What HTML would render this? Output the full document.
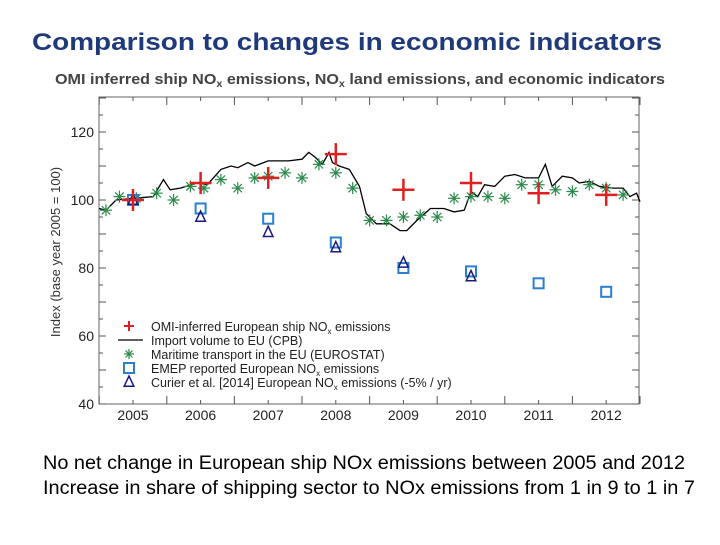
<!DOCTYPE html>
<html><head><meta charset="utf-8"><style>
body{margin:0;background:#fff;width:720px;height:540px;overflow:hidden;font-family:"Liberation Sans",sans-serif}
</style></head><body>
<svg width="720" height="540" xmlns="http://www.w3.org/2000/svg" font-family="Liberation Sans, sans-serif">
<text x="32" y="50" font-size="24" font-weight="bold" fill="#1f3a7a" textLength="630" lengthAdjust="spacingAndGlyphs">Comparison to changes in economic indicators</text>
<text x="55" y="84" font-size="15" font-weight="bold" fill="#444" textLength="610" lengthAdjust="spacingAndGlyphs">OMI inferred ship NO<tspan font-size="10" dy="3">x</tspan><tspan dy="-3"> emissions, NO</tspan><tspan font-size="10" dy="3">x</tspan><tspan dy="-3"> land emissions, and economic indicators</tspan></text>
<g id="plot"></g>
<text transform="translate(60,252) rotate(-90)" text-anchor="middle" font-size="13" fill="#333">Index (base year 2005 = 100)</text>
<text x="43" y="469" font-size="19" fill="#000" textLength="642" lengthAdjust="spacingAndGlyphs">No net change in European ship NOx emissions between 2005 and 2012</text>
<text x="43" y="494" font-size="19" fill="#000" textLength="652" lengthAdjust="spacingAndGlyphs">Increase in share of shipping sector to NOx emissions from 1 in 9 to 1 in 7</text>
</svg>
<script>
const yTicks=[40,60,80,100,120];
const yearLabels=[2005,2006,2007,2008,2009,2010,2011,2012];
const lineYears=[2004.5,2004.6,2004.75,2005,2005.3,2005.45,2005.55,2005.7,2005.95,2006.1,2006.3,2006.45,2006.55,2006.7,2006.8,2007.0,2007.3,2007.5,2007.6,2007.7,2007.8,2007.9,2007.95,2008.05,2008.2,2008.35,2008.45,2008.6,2008.8,2008.95,2009.05,2009.2,2009.4,2009.6,2009.75,2009.9,2010.0,2010.1,2010.2,2010.35,2010.5,2010.65,2010.8,2011.0,2011.1,2011.2,2011.35,2011.5,2011.6,2011.75,2011.9,2012.1,2012.25,2012.35,2012.45,2012.5];
const lineVals=[97.5,97,100,100.5,101,106,103,103.5,105,104.5,109,110,109.5,111,110,111.5,111.5,112,114,112.5,110.5,114,111,110,109,104,96,93,93,91,91,94,97.5,97.5,96.5,97,102.5,101,104.5,104,107,107.5,106.5,106.5,110.5,104,107,106.5,105,105.5,104,103.5,103.5,101,102,99.5];
const omiYears=[2005,2006,2007,2008,2009,2010,2011,2012];
const omiVals=[100,105,106.5,113.5,103,105,102,101.5];
const starYears=[2004.6,2004.8,2005.05,2005.35,2005.6,2005.85,2006.05,2006.3,2006.55,2006.8,2007.0,2007.25,2007.5,2007.75,2008.0,2008.25,2008.5,2008.75,2009.0,2009.25,2009.5,2009.75,2010.0,2010.25,2010.5,2010.75,2011.0,2011.25,2011.5,2011.75,2012.0,2012.25];
const starVals=[97,101,100.5,102,100,104,103.5,106,103.5,106.5,107,108,106.5,110.5,108,103.5,94,94,95,95.5,95,100.5,101,101,100.5,104.5,104.5,103,102.5,104.5,103.5,101.5];
const emepYears=[2005,2006,2007,2008,2009,2010,2011,2012];
const emepVals=[100,97.5,94.5,87.5,80,79,75.5,73];
const curYears=[2005,2006,2007,2008,2009,2010];
const curVals=[100,95,90.5,86,81.5,77.5];

const L=99,R=639,T=97,B=404;
const X=t=>133+(t-2005)*67.6;
const Y=v=>200-(v-100)*3.4;
const NS="http://www.w3.org/2000/svg";
const g=document.getElementById('plot');
function mk(tag,a,p){const e=document.createElementNS(NS,tag);for(const k in a)e.setAttribute(k,a[k]);(p||g).appendChild(e);return e;}
let fr=mk('rect',{x:L,y:T,width:R-L,height:B-T,fill:'none',stroke:'#666','stroke-width':1});


for(let v=40;v<=130;v+=5){const len=(v%10===0)?7:4;
 mk('line',{x1:L,x2:L+len,y1:Y(v),y2:Y(v),stroke:'#555'});mk('line',{x1:R,x2:R-len,y1:Y(v),y2:Y(v),stroke:'#555'});}
yTicks.forEach(v=>{const t=mk('text',{x:L-5,y:Y(v)+5,'text-anchor':'end','font-size':14,fill:'#222'});t.textContent=v;
 
 });
for(let y=2004.5;y<=2012.5;y+=0.5){const len=(Math.abs(y%1-0.5)<0.01)?8:4;
 mk('line',{x1:X(y),x2:X(y),y1:B,y2:B-len,stroke:'#555'});mk('line',{x1:X(y),x2:X(y),y1:T,y2:T+len,stroke:'#555'});}
yearLabels.forEach(y=>{const t=mk('text',{x:X(y),y:420,'text-anchor':'middle','font-size':14,fill:'#222'});t.textContent=y;
 
 });
const ln=mk('polyline',{points:lineYears.map((t,i)=>X(t)+','+Y(lineVals[i])).join(' '),fill:'none',stroke:'#000','stroke-width':1.3});


function star(x,y,s){const e=mk('g',{stroke:'#2a8a4a','stroke-width':1.2});
 mk('line',{x1:x-s,x2:x+s,y1:y,y2:y},e);mk('line',{x1:x,x2:x,y1:y-s,y2:y+s},e);
 mk('line',{x1:x-s*.7,x2:x+s*.7,y1:y-s*.7,y2:y+s*.7},e);mk('line',{x1:x-s*.7,x2:x+s*.7,y1:y+s*.7,y2:y-s*.7},e);return e;}
function plus(x,y,s){const e=mk('g',{stroke:'#e02020','stroke-width':2.5});
 mk('line',{x1:x-s,x2:x+s,y1:y,y2:y},e);mk('line',{x1:x,x2:x,y1:y-s,y2:y+s},e);return e;}
function sq(x,y,s){return mk('rect',{x:x-s,y:y-s,width:2*s,height:2*s,fill:'none',stroke:'#2a7fd0','stroke-width':2});}
function tri(x,y,s){return mk('polygon',{points:`${x},${y-s} ${x-s*0.8},${y+s*0.7} ${x+s*0.8},${y+s*0.7}`,fill:'none',stroke:'#1a1a80','stroke-width':1.5});}
starYears.forEach((t,i)=>{const e=star(X(t),Y(starVals[i]),6);
 
 });
emepYears.forEach((t,i)=>{const e=sq(X(t),Y(emepVals[i]),5);
 
 });
curYears.forEach((t,i)=>{const e=tri(X(t),Y(curVals[i]),6);
 
 });
omiYears.forEach((t,i)=>{const e=plus(X(t),Y(omiVals[i]),11);
 
 });
const lg=mk('g',{});


const labels=['OMI-inferred European ship NO<tspan font-size="8" dy="3">x</tspan><tspan dy="-3"> emissions</tspan>','Import volume to EU (CPB)','Maritime transport in the EU (EUROSTAT)','EMEP reported European NO<tspan font-size="8" dy="3">x</tspan><tspan dy="-3"> emissions</tspan>','Curier et al. [2014] European NO<tspan font-size="8" dy="3">x</tspan><tspan dy="-3"> emissions (-5% / yr)</tspan>'];
const ly=[326,340,354,368,382];
labels.forEach((s,i)=>{const t=mk('text',{x:151,y:ly[i]+5,'font-size':12.5,fill:'#222'},lg);t.innerHTML=s;});
const p=plus(129,ly[0],5);p.setAttribute('stroke-width',2);lg.appendChild(p);
mk('line',{x1:118,x2:143,y1:ly[1],y2:ly[1],stroke:'#000','stroke-width':1.2},lg);
lg.appendChild(star(129,ly[2],5));lg.appendChild(sq(129,ly[3],5));lg.appendChild(tri(129,ly[4],6));
</script>
</body></html>
